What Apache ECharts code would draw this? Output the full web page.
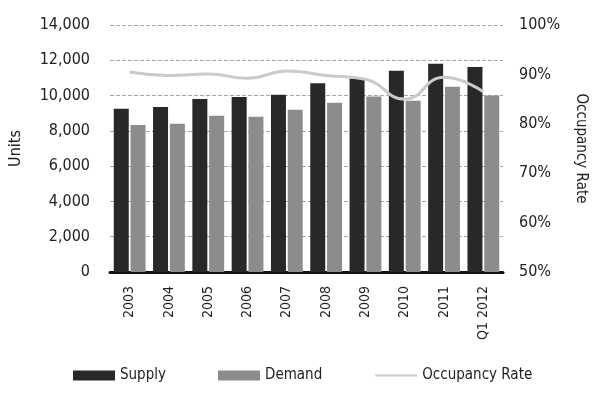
<!DOCTYPE html>
<html>
<head>
<meta charset="utf-8">
<script src="https://cdn.jsdelivr.net/npm/echarts@6/dist/echarts.min.js"></script>
<style>
  html, body { margin: 0; padding: 0; background: #fff; }
  #chart { width: 596px; height: 394px; }
</style>
</head>
<body>
<div id="chart"></div>
<script>
const categories = ['2003', '2004', '2005', '2006', '2007', '2008', '2009', '2010', '2011', 'Q1 2012']
const supply = [9250, 9350, 9800, 9920, 10050, 10700, 10950, 11400, 11800, 11620]
const demand = [8330, 8400, 8850, 8800, 9200, 9600, 9950, 9700, 10500, 10000]
const occupancy = [0.905, 0.898, 0.901, 0.892, 0.907, 0.898, 0.89, 0.85, 0.894, 0.865]

const FONT = "'Liberation Sans Narrow', 'DejaVu Sans Condensed', sans-serif"
const TEXT = '#222'

const chart = echarts.init(document.getElementById('chart'))
chart.setOption({
  animation: false,
  textStyle: { fontFamily: FONT, color: TEXT },
  grid: { left: 110, right: 86, top: 25, bottom: 122 },
  legend: {
    left: 68,
    bottom: 6,
    itemWidth: 42,
    itemHeight: 10,
    itemGap: 52,
    textStyle: { fontFamily: FONT, fontSize: 15, color: TEXT },
    data: [
      { name: 'Supply', icon: 'rect' },
      { name: 'Demand', icon: 'rect' },
      { name: 'Occupancy Rate', itemStyle: { opacity: 0 } },
    ],
  },
  xAxis: {
    type: 'category',
    data: categories,
    axisLine: { lineStyle: { color: '#111', width: 3 } },
    axisTick: { show: false },
    axisLabel: {
      rotate: 90,
      margin: 14,
      fontSize: 14,
      color: TEXT,
      fontFamily: FONT,
    },
  },
  yAxis: [{
    type: 'value',
    min: 0,
    max: 14000,
    interval: 2000,
    name: 'Units',
    nameLocation: 'middle',
    nameGap: 86,
    nameTextStyle: { fontSize: 16, color: TEXT, fontFamily: FONT },
    axisLine: { show: false },
    axisTick: { show: false },
    axisLabel: {
      margin: 20,
      fontSize: 16,
      color: TEXT,
      fontFamily: FONT,
      formatter: v => v.toLocaleString('en-US'),
    },
    splitLine: { lineStyle: { color: '#a8a8a8', type: 'dashed', width: 1 } },
  }, {
    type: 'value',
    min: 0.5,
    max: 1.0,
    interval: 0.1,
    name: 'Occupancy Rate',
    nameLocation: 'middle',
    nameGap: 70,
    nameRotate: -90,
    nameTextStyle: { fontSize: 15, color: TEXT, fontFamily: FONT },
    axisLine: { show: false },
    axisTick: { show: false },
    axisLabel: {
      margin: 16,
      fontSize: 16,
      color: TEXT,
      fontFamily: FONT,
      formatter: v => Math.round(v * 100) + '%',
    },
    splitLine: { show: false },
  }],
  series: [{
    name: 'Supply',
    type: 'bar',
    data: supply,
    barWidth: 15,
    barGap: '12%',
    itemStyle: { color: '#282828' },
  }, {
    name: 'Demand',
    type: 'bar',
    data: demand,
    barWidth: 15,
    itemStyle: { color: '#8c8c8c' },
  }, {
    name: 'Occupancy Rate',
    type: 'line',
    yAxisIndex: 1,
    data: occupancy,
    smooth: true,
    showSymbol: false,
    symbol: 'none',
    lineStyle: { color: '#cacaca', width: 3 },
    itemStyle: { color: '#cacaca' },
  }],
})
</script>
</body>
</html>
